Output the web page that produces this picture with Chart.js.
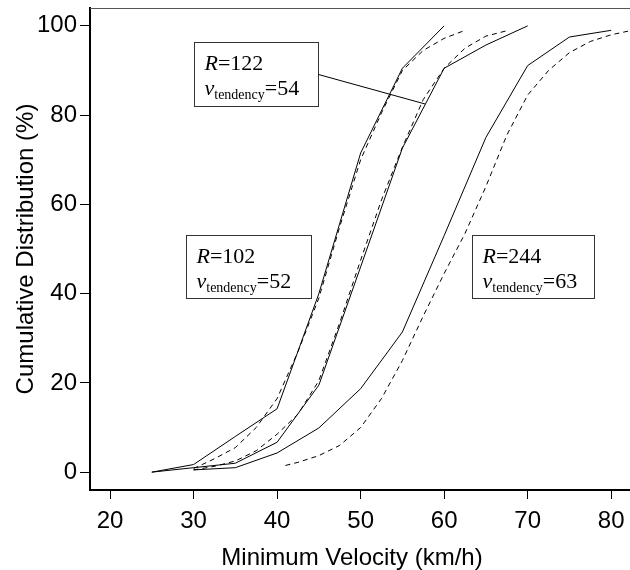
<!DOCTYPE html>
<html>
<head>
<meta charset="utf-8">
<script src="https://cdn.jsdelivr.net/npm/chart.js@4.4.1/dist/chart.umd.min.js"></script>
<style>
  html, body { margin: 0; padding: 0; background: #fff; }
  #wrap { width: 630px; height: 570px; }
</style>
</head>
<body>
<div id="wrap"><canvas id="cdfChart" width="630" height="570"></canvas></div>
<script>
// Tick labels
const xTicks = [20, 30, 40, 50, 60, 70, 80];
const yTicks = [0, 20, 40, 60, 80, 100];

// R=102 : observed (solid) and model (dashed)
const v102Obs = [25, 30, 35, 40, 45, 50, 55, 60];
const p102Obs = [0, 1.7, 8, 14.2, 40, 71.5, 90.5, 100];
const v102Mod = [30, 32.5, 35, 37.5, 40, 42.5, 45, 47.5, 50, 52.5, 55, 57.5, 60, 62.5];
const p102Mod = [0.8, 3, 5.5, 10, 16.5, 27, 39, 55, 70, 80.5, 90, 94.5, 97.2, 99];

// R=122
const v122Obs = [25, 30, 35, 40, 45, 50, 55, 60, 65, 70];
const p122Obs = [0, 1, 2, 6.7, 19.5, 46, 72.6, 90.5, 95.7, 100];
const v122Mod = [30, 32.5, 35, 37.5, 40, 42.5, 45, 47.5, 50, 52.5, 55, 57.5, 60, 62.5, 65, 67.5];
const p122Mod = [0.5, 1.3, 2.5, 4.8, 8.5, 13, 20.5, 33.5, 47.5, 61, 72.8, 83.5, 90.5, 95, 97.7, 98.9];

// R=244
const v244Obs = [30, 35, 40, 45, 50, 55, 60, 65, 70, 75, 80];
const p244Obs = [0.5, 1, 4.3, 9.9, 18.7, 31.4, 53, 75, 91.1, 97.5, 99];
const v244Mod = [41, 42.5, 45, 47.5, 50, 52.5, 55, 57.5, 60, 62.5, 65, 67.5, 70, 72.5, 75, 77.5, 80, 82.5];
const p244Mod = [1.5, 2.2, 3.7, 6, 10, 16.5, 25, 35, 44.5, 53.5, 64, 75.5, 84.5, 90, 94, 96.5, 98, 99];

const labelR = ['122', '102', '244'];
const labelV = ['54', '52', '63'];

function toPoints(xs, ys) {
    return xs.map((x, i) => ({ x: x, y: ys[i] }));
}

function makeSet(xs, ys, dashed) {
    return {
        data: toPoints(xs, ys),
        borderColor: '#000',
        borderWidth: 1,
        borderDash: dashed ? [5, 4] : [],
        pointRadius: 0,
        tension: 0,
        fill: false
    };
}

// text boxes, placed in data units
const notes = [
    { x0: 30.0, x1: 44.85, top: 96.4, bottom: 82.0, lead: { x: 57.7, y: 82.5 } },
    { x0: 29.1, x1: 44.0, top: 53.1, bottom: 39.0 },
    { x0: 63.35, x1: 77.95, top: 53.1, bottom: 39.0 }
];

const sansFont = 'Liberation Sans';

const notePlugin = {
    id: 'notes',
    afterDatasetsDraw(chart) {
        const ctx = chart.ctx;
        const xs = chart.scales.x, ys = chart.scales.y;
        const area = chart.chartArea;
        ctx.save();
        // top frame line
        ctx.strokeStyle = '#555';
        ctx.lineWidth = 1;
        ctx.beginPath();
        ctx.moveTo(area.left, area.top + 0.5);
        ctx.lineTo(area.right, area.top + 0.5);
        ctx.stroke();

        notes.forEach((n, i) => {
            const l = Math.round(xs.getPixelForValue(n.x0)) + 0.5;
            const r = Math.round(xs.getPixelForValue(n.x1)) + 0.5;
            const t = Math.round(ys.getPixelForValue(n.top)) + 0.5;
            const b = Math.round(ys.getPixelForValue(n.bottom)) + 0.5;
            ctx.fillStyle = '#fff';
            ctx.fillRect(l, t, r - l, b - t);
            ctx.strokeStyle = '#333';
            ctx.lineWidth = 1;
            ctx.strokeRect(l, t, r - l, b - t);
            if (n.lead) {
                ctx.strokeStyle = '#000';
                ctx.beginPath();
                ctx.moveTo(r, (t + b) / 2);
                ctx.lineTo(xs.getPixelForValue(n.lead.x), ys.getPixelForValue(n.lead.y));
                ctx.stroke();
            }
            ctx.fillStyle = '#000';
            ctx.textBaseline = 'alphabetic';
            ctx.textAlign = 'left';
            let x = l + 10;
            let y1 = t + 27;
            ctx.font = 'italic 22px "Liberation Serif"';
            ctx.fillText('R', x, y1);
            x += ctx.measureText('R').width;
            ctx.font = '22px "Liberation Serif"';
            ctx.fillText('=' + labelR[i], x, y1);

            x = l + 10;
            let y2 = t + 52;
            ctx.font = 'italic 22px "Liberation Serif"';
            ctx.fillText('v', x, y2);
            x += ctx.measureText('v').width;
            ctx.font = '14px "Liberation Serif"';
            ctx.fillText('tendency', x, y2 + 4);
            x += ctx.measureText('tendency').width;
            ctx.font = '22px "Liberation Serif"';
            ctx.fillText('=' + labelV[i], x, y2);
        });

        // x axis title, sits a little left of the centre as in the original
        ctx.font = '24px "' + sansFont + '"';
        ctx.textAlign = 'center';
        ctx.fillText('Minimum Velocity (km/h)', area.left + 262, 565);
        ctx.restore();
    }
};

const ctx = document.getElementById('cdfChart').getContext('2d');
const cdfChart = new Chart(ctx, {
    type: 'line',
    data: {
        datasets: [
            makeSet(v102Obs, p102Obs, false),
            makeSet(v102Mod, p102Mod, true),
            makeSet(v122Obs, p122Obs, false),
            makeSet(v122Mod, p122Mod, true),
            makeSet(v244Obs, p244Obs, false),
            makeSet(v244Mod, p244Mod, true)
        ]
    },
    options: {
        responsive: false,
        animation: false,
        layout: { padding: { top: 8, left: 0, right: 0, bottom: 0 } },
        plugins: {
            legend: { display: false },
            tooltip: { enabled: false }
        },
        scales: {
            x: {
                type: 'linear',
                min: 17.6,
                max: 82.25,
                afterBuildTicks: s => { s.ticks = xTicks.map(v => ({ value: v })); },
                afterFit: s => { s.height = 80; s.paddingLeft = 0; s.paddingRight = 0; },
                grid: { drawOnChartArea: false, drawTicks: true, tickLength: 9, tickColor: '#000', tickWidth: 1 },
                border: { display: true, color: '#000', width: 2 },
                ticks: { font: { family: sansFont, size: 24 }, color: '#000', padding: 8, maxRotation: 0, autoSkip: false },
                title: { display: false }
            },
            y: {
                type: 'linear',
                min: -4,
                max: 104,
                afterBuildTicks: s => { s.ticks = yTicks.map(v => ({ value: v })); },
                afterFit: s => { s.width = 90; s.paddingTop = 0; s.paddingBottom = 0; },
                grid: { drawOnChartArea: false, drawTicks: true, tickLength: 10, tickColor: '#000', tickWidth: 1 },
                border: { display: true, color: '#000', width: 2 },
                ticks: { font: { family: sansFont, size: 24 }, color: '#000', padding: 3, autoSkip: false },
                title: {
                    display: true,
                    text: 'Cumulative Distribution (%)',
                    color: '#000',
                    font: { family: sansFont, size: 24 },
                    padding: { top: 12, bottom: 0 }
                }
            }
        }
    },
    plugins: [notePlugin]
});
</script>
</body>
</html>
